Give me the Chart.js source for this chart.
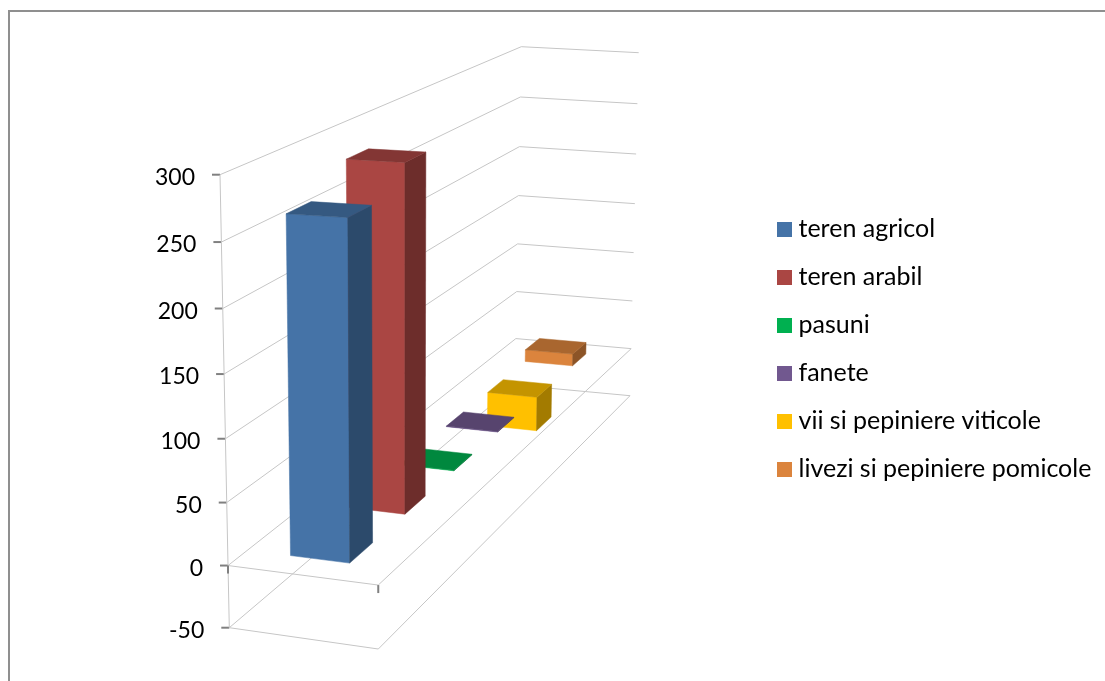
<!DOCTYPE html>
<html>
<head>
<meta charset="utf-8">
<style>
    html, body { margin: 0; padding: 0; background: #fff; overflow: hidden; }
    #frame { position: absolute; left: 8px; top: 10px; right: 0; bottom: 0; border-top: 2px solid #8f8f8f; border-left: 2px solid #8f8f8f; }
    #chart3d { position: absolute; left: 0; top: 0; }
</style>
</head>
<body>
<div id="frame"></div>
<canvas id="chart3d" width="1105" height="681"></canvas>
<script src="https://cdn.jsdelivr.net/npm/chart.js"></script>
<script>
    var categories = [''];
    var seriesNames = ['teren agricol', 'teren arabil', 'pasuni', 'fanete', 'vii si pepiniere viticole', 'livezi si pepiniere pomicole'];
    var seriesValues = [266, 286, 0.5, 0.5, -33, 12];
    var seriesColors = ['#4573a7', '#aa4643', '#00b050', '#71588f', '#ffc000', '#db843d'];
    var axisMin = -50;
    var axisMax = 300;
    var axisStep = 50;

    var FONT = 'Lato';
    var GRID_COLOR = '#c6c6c6';
    var TICK_COLOR = '#808080';

    // box corners on screen, named x (L/R), depth (F/B), height (0 = axis min, 1 = axis max)
    var corners = {
        LF0: [229.3, 627.7], LF1: [220, 174.7],
        RF0: [378.3, 649], RF1: [378, 183],
        LB0: [515, 385], LB1: [521.3, 46.7],
        RB0: [630, 395.7], RB1: [638.7, 52.7]
    };
    var DEPTH_WARP = 0.72;   // far series get squeezed together
    var HEIGHT_WARP = 1.048; // lower ticks sit a bit closer together
    var BAR_SHIFT = -0.01;   // bars are not quite centred across the floor

    function lerp(a, b, t) {
        return [a[0] + (b[0] - a[0]) * t, a[1] + (b[1] - a[1]) * t];
    }

    // x: 0..1 across, z: 0..1 into the picture, h: 0..1 already warped height
    function project(x, z, h) {
        var zw = z / (z + DEPTH_WARP * (1 - z));
        var c = corners;
        var bottom = lerp(lerp(c.LF0, c.RF0, x), lerp(c.LB0, c.RB0, x), zw);
        var top = lerp(lerp(c.LF1, c.RF1, x), lerp(c.LB1, c.RB1, x), zw);
        return lerp(bottom, top, h);
    }

    function shade(hex, f) {
        var n = parseInt(hex.slice(1), 16);
        return 'rgb(' + Math.round((n >> 16) * f) + ',' + Math.round(((n >> 8) & 255) * f) + ',' + Math.round((n & 255) * f) + ')';
    }

    function poly(ctx, pts, fill) {
        ctx.beginPath();
        pts.forEach(function (p, i) {
            if (i === 0) ctx.moveTo(p[0], p[1]);
            else ctx.lineTo(p[0], p[1]);
        });
        ctx.closePath();
        ctx.fillStyle = fill;
        ctx.strokeStyle = fill;
        ctx.lineWidth = 0.5;
        ctx.fill();
        ctx.stroke();
    }

    function line(ctx, a, b, color, width) {
        ctx.beginPath();
        ctx.moveTo(a[0], a[1]);
        ctx.lineTo(b[0], b[1]);
        ctx.strokeStyle = color;
        ctx.lineWidth = width;
        ctx.stroke();
    }

    // linear axis whose ticks follow the slanted front edge of the box
    class SlantedScale extends Chart.LinearScale {
        getPixelForValue(value) {
            var t = (value - this.min) / (this.max - this.min);
            return this.getPixelForDecimal(t / (t + HEIGHT_WARP * (1 - t)));
        }
        getValueForPixel(pixel) {
            var d = this.getDecimalForPixel(pixel);
            return this.min + (this.max - this.min) * HEIGHT_WARP * d / (1 - d + HEIGHT_WARP * d);
        }
        _computeLabelItems(chartArea) {
            var items = super._computeLabelItems(chartArea);
            var scale = this;
            items.forEach(function (item) {
                var y = item.options.translation[1];
                var h = (scale.bottom - y) / (scale.bottom - scale.top);
                item.options.translation = [project(0, 0, h)[0] - 25, y + 3];
            });
            return items;
        }
    }
    SlantedScale.id = 'slanted';
    SlantedScale.defaults = Chart.LinearScale.defaults;
    Chart.register(SlantedScale);

    function heightOf(scale, pixel) {
        return (scale.bottom - pixel) / (scale.bottom - scale.top);
    }

    var box3d = {
        id: 'box3d',
        afterLayout: function (chart) {
            // the legend sits higher than the plot, independent of the chart area
            var legend = chart.legend;
            legend.left = 760;
            legend.right = chart.width;
            legend.width = legend.right - legend.left;
            legend.top = 193.5;
            legend.bottom = legend.top + legend.height;
        },
        beforeDatasetsDraw: function (chart) {
            var ctx = chart.ctx;
            var y = chart.scales.y;
            ctx.save();
            y.ticks.forEach(function (tick) {
                var h = heightOf(y, y.getPixelForValue(tick.value));
                var front = project(0, 0, h);
                line(ctx, front, project(0, 1, h), GRID_COLOR, 1);
                line(ctx, project(0, 1, h), project(1, 1, h), GRID_COLOR, 1);
                line(ctx, front, [front[0] - 8, front[1]], TICK_COLOR, 2);
            });
            line(ctx, project(0, 0, 0), project(0, 0, 1), GRID_COLOR, 1);
            // floor outline and the zero plane
            [0, heightOf(y, y.getPixelForValue(0))].forEach(function (h) {
                line(ctx, project(0, 0, h), project(1, 0, h), GRID_COLOR, 1);
                line(ctx, project(1, 0, h), project(1, 1, h), GRID_COLOR, 1);
            });
            var h0 = heightOf(y, y.getPixelForValue(0));
            [0, 1].forEach(function (x) {
                var p = project(x, 0, h0);
                line(ctx, p, [p[0], p[1] + 8], TICK_COLOR, 2);
            });
            ctx.restore();
        },
        beforeDatasetDraw: function (chart, args) {
            var ctx = chart.ctx;
            var area = chart.chartArea;
            var y = chart.scales.y;
            var i = args.index;
            var count = chart.data.datasets.length;
            var color = chart.data.datasets[i].backgroundColor;

            args.meta.data.forEach(function (bar) {
                var x0 = (bar.x - bar.width / 2 - area.left) / area.width + BAR_SHIFT;
                var x1 = (bar.x + bar.width / 2 - area.left) / area.width + BAR_SHIFT;
                var z0 = (i + 0.3) / count;
                var z1 = (i + 0.7) / count;
                var a = heightOf(y, bar.y);
                var b = heightOf(y, bar.base);
                var top = Math.max(a, b);
                var low = Math.min(a, b);
                poly(ctx, [project(x0, z0, low), project(x1, z0, low), project(x1, z0, top), project(x0, z0, top)], color);
                poly(ctx, [project(x1, z0, low), project(x1, z1, low), project(x1, z1, top), project(x1, z0, top)], shade(color, 0.64));
                poly(ctx, [project(x0, z0, top), project(x1, z0, top), project(x1, z1, top), project(x0, z1, top)], shade(color, 0.77));
            });
            return false; // the flat bar is replaced by the prism above
        }
    };

    // legend swatches are images so the text can sit closer than the default gap
    function swatch(color) {
        var c = document.createElement('canvas');
        c.width = 15;
        c.height = 15;
        var g = c.getContext('2d');
        g.fillStyle = color;
        g.fillRect(0, 0, 15, 15);
        return c;
    }

    var datasets = seriesNames.map(function (name, i) {
        return {
            label: name,
            data: [seriesValues[i]],
            backgroundColor: seriesColors[i],
            grouped: false,
            barPercentage: 0.4,
            categoryPercentage: 1
        };
    });

    new Chart(document.getElementById('chart3d').getContext('2d'), {
        type: 'bar',
        data: { labels: categories, datasets: datasets },
        plugins: [box3d],
        options: {
            responsive: false,
            animation: false,
            layout: { padding: { top: 174.7, bottom: 53.3 } },
            scales: {
                x: { display: false },
                y: {
                    type: 'slanted',
                    min: axisMin,
                    max: axisMax,
                    grid: { display: false },
                    border: { display: false },
                    afterFit: function (scale) { scale.width = 215; },
                    ticks: {
                        stepSize: axisStep,
                        color: '#000',
                        font: { family: FONT, size: 23 }
                    }
                }
            },
            plugins: {
                title: { display: false },
                tooltip: { enabled: false },
                legend: {
                    position: 'right',
                    align: 'start',
                    labels: {
                        color: '#000',
                        font: { family: FONT, size: 25 },
                        padding: 23,
                        boxHeight: 15,
                        usePointStyle: true,
                        pointStyleWidth: 3,
                        generateLabels: function (chart) {
                            return chart.data.datasets.map(function (d, i) {
                                return {
                                    text: d.label,
                                    fillStyle: d.backgroundColor,
                                    strokeStyle: d.backgroundColor,
                                    lineWidth: 0,
                                    pointStyle: swatch(d.backgroundColor),
                                    datasetIndex: i
                                };
                            });
                        }
                    }
                }
            }
        }
    });
</script>
</body>
</html>
